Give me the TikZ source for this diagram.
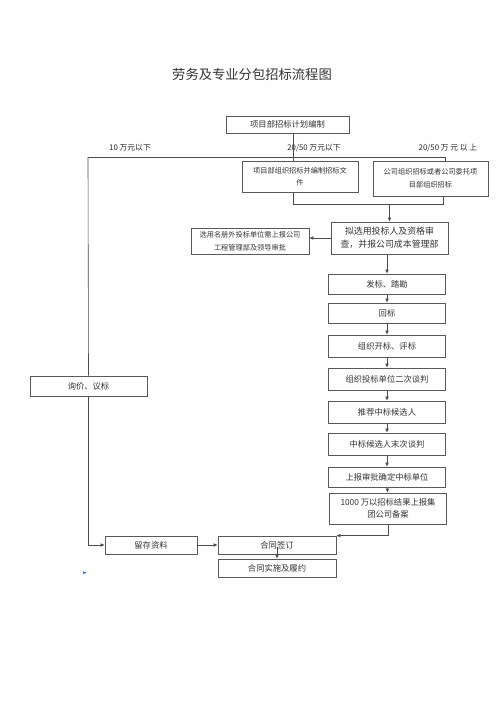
\documentclass[tikz,border=0pt]{standalone}
\usepackage{fontspec}
\setmainfont{Noto Sans CJK SC}
\newfontfamily\symfont{DejaVu Sans}
\usepackage{xcolor}
\usepackage{tikz}
\usetikzlibrary{shapes, arrows.meta, positioning}
\usetikzlibrary{calc}

\begin{document}
\begin{tikzpicture}
  [
    x=1pt, y=-1pt,
    Box/.style={rectangle, draw=black!65, line width=0.7pt, fill=white, minimum width=117pt, minimum height=20pt, inner sep=1pt, align=center, font=\fontsize{8.3}{12}\selectfont, text=black!80},
    Small/.style={Box, font=\fontsize{7.2}{12.5}\selectfont},
    Money/.style={font=\fontsize{7.8}{9}\selectfont, text=black!85},
    Flow/.style={-{Latex[length=4pt, width=3.6pt]}, draw=black!70, line width=0.6pt},
    Line/.style={draw=black!70, line width=0.6pt}
  ]
  \useasboundingbox (0,0) rectangle (500,707);
  % Title
  \node[font=\fontsize{13.3}{15}\selectfont, text=black!80] (title) at(252, 74) {劳务及专业分包招标流程图};
  % Nodes
  \node[Box, minimum width=123pt, minimum height=17pt] (plan) at(287.5, 124.5) {项目部招标计划编制};
  \node[Money] (low) at(130, 148) {10 万元以下};
  \node[Money] (mid) at(314, 148) {20/50 万元以下};
  \node[Money] (high) at(448, 148) {20/50 万\ 元\ 以\ 上};
  \node[Small, minimum width=116pt, minimum height=31pt] (self) at(300, 176.5) {项目部组织招标并编制招标文\\件};
  \node[Small, minimum width=115pt, minimum height=35pt] (corp) at(430.5, 178.5) {公司组织招标或者公司委托项\\目部组织招标};
  \node[Box, minimum height=32pt, font=\fontsize{8.9}{13}\selectfont] (select) at(389.5, 238) {拟选用投标人及资格审\\查，并报公司成本管理部};
  \node[Small, minimum width=118pt, minimum height=26pt] (outside) at(250, 241) {选用名册外投标单位需上报公司\\工程管理部及领导审批};
  \node[Box] (issue) at(387, 284) {发标、踏勘};
  \node[Box] (back) at(387, 313) {回标};
  \node[Box, minimum height=22pt] (open) at(387, 346) {组织开标、评标};
  \node[Box, minimum height=22pt] (second) at(387, 379) {组织投标单位二次谈判};
  \node[Box, minimum height=22pt] (recommend) at(387, 412) {推荐中标候选人};
  \node[Box, minimum height=22pt] (final) at(387, 444) {中标候选人末次谈判};
  \node[Box] (approve) at(387, 477) {上报审批确定中标单位};
  \node[Box, minimum height=31pt] (report) at(388, 508.5) {1000 万以招标结果上报集\\团公司备案};
  \node[Box] (inquiry) at(88.5, 386) {询价、议标};
  \node[Box, minimum width=92pt, minimum height=18pt] (archive) at(151, 545) {留存资料};
  \node[Box, minimum width=118pt, minimum height=18pt] (sign) at(277, 545) {合同签订};
  \node[Box, minimum width=118pt, minimum height=18pt] (perform) at(277, 568) {合同实施及履约};
  \node[font=\symfont\fontsize{5}{6}\selectfont, text=blue!60!cyan] (marker) at(85, 573) {►};
  % Branch points
  \coordinate (split) at(293, 157);
  \coordinate (left) at(88, 157);
  \coordinate (right) at(445, 157);
  \coordinate (joinl) at(293, 204);
  \coordinate (joinr) at(443, 204);
  % Lines
  \path [Line] (plan.south -| split) -- (split);
  \path [Line] (left) -- (right);
  \path [Line] (split) -- (split |- self.north);
  \path [Line] (right) -- (right |- corp.north);
  \path [Line] (left) -- (inquiry.north);
  \path [Line] (split |- self.south) -- (joinl) -- (joinr) -- (joinr |- corp.south);
  \path [Flow] (select.north |- joinr) -- (select.north);
  \path [Flow] (select.west) -- (select.west -| outside.east);
  \path [Flow] (select.south -| issue.north) -- (issue.north);
  \path [Flow] (issue) -- (back);
  \path [Flow] (back) -- (open);
  \path [Flow] (open) -- (second);
  \path [Flow] (second) -- (recommend);
  \path [Flow] (recommend) -- (final);
  \path [Flow] (final) -- (approve);
  \path [Flow] (approve) -- (report);
  \path [Flow] (report.south) |- (sign.north east);
  \path [Flow] (inquiry.south) |- (archive.west);
  \path [Flow] (archive) -- (sign);
  \path [Flow] ([yshift=-2pt]sign.center) -- (perform.north);
\end{tikzpicture}
\end{document}
